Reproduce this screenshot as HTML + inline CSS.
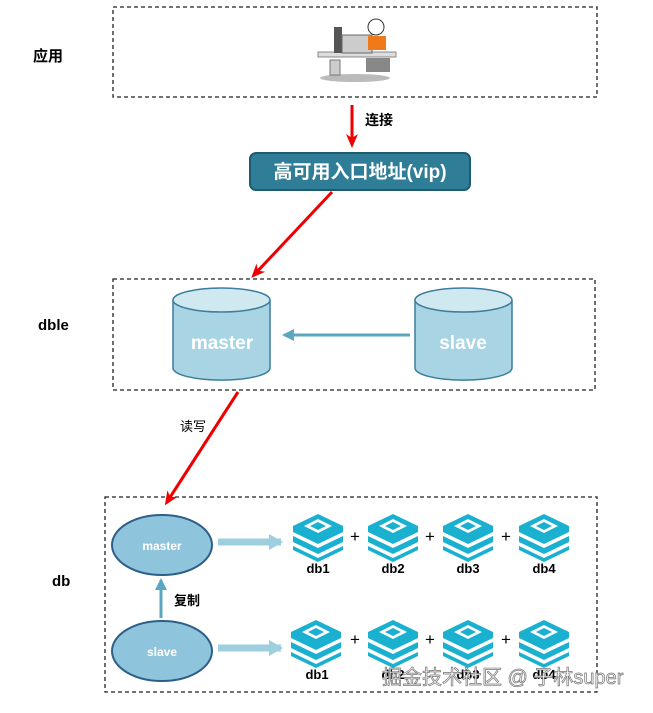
<!DOCTYPE html>
<html><head><meta charset="utf-8"><style>
body{margin:0;background:#fff;}
svg text{font-family:"Liberation Sans","Noto Sans CJK SC",sans-serif;}
</style></head><body>
<svg width="653" height="708" viewBox="0 0 653 708" xmlns="http://www.w3.org/2000/svg">
<defs>
<marker id="ra" markerWidth="14" markerHeight="12" refX="10" refY="6" orient="auto" markerUnits="userSpaceOnUse"><path d="M0,0 L14,6 L0,12 L4,6 z" fill="#e00"/></marker>
<marker id="ba" markerWidth="12" markerHeight="12" refX="10" refY="6" orient="auto" markerUnits="userSpaceOnUse"><path d="M0,0 L12,6 L0,12 z" fill="#5ba6c1"/></marker>
<marker id="la" markerWidth="14" markerHeight="16" refX="12" refY="8" orient="auto" markerUnits="userSpaceOnUse"><path d="M0,0 L14,8 L0,16 z" fill="#9dcfdf"/></marker>
<g id="dbi">
<path d="M-25,-6 L0,-18 L25,-6 L25,0 L0,12 L-25,0Z" fill="#1ab0cf"/>
<path d="M-25,4 L0,16 L25,4 L25,10 L0,22 L-25,10Z" fill="#1ab0cf"/>
<path d="M-25,14 L0,26 L25,14 L25,18 L0,30 L-25,18Z" fill="#1ab0cf"/>
<path d="M-14,-6 L0,-13 L14,-6 L0,1Z" fill="#fff"/>
<path d="M-8,-6 L0,-10 L8,-6 L0,-2Z" fill="#1ab0cf"/>
</g>
</defs>
<g fill="none" stroke="#222" stroke-width="1.3" stroke-dasharray="4,3">
<rect x="113" y="7" width="484" height="90"/>
<rect x="113" y="279" width="482" height="111"/>
<rect x="105" y="497" width="492" height="195"/>
</g>
<g font-weight="bold" font-size="15" fill="#000">
<text x="33" y="61">应用</text>
<text x="38" y="330">dble</text>
<text x="52" y="586">db</text>
</g>
<ellipse cx="355" cy="78" rx="35" ry="4" fill="#bbb"/>
<rect x="318" y="52" width="78" height="5" fill="#ddd" stroke="#888"/>
<rect x="334" y="27" width="8" height="26" fill="#555"/>
<rect x="342" y="35" width="30" height="18" fill="#ccc" stroke="#666"/>
<circle cx="376" cy="27" r="8" fill="#fff" stroke="#333"/>
<path d="M368,36 h18 v14 h-18z" fill="#f07a1a"/>
<rect x="330" y="60" width="10" height="15" fill="#ccc" stroke="#777"/>
<rect x="366" y="58" width="24" height="14" fill="#888"/>
<line x1="352" y1="105" x2="352" y2="144" stroke="#e00" stroke-width="3" marker-end="url(#ra)"/>
<text x="365" y="125" font-size="14" font-weight="bold">连接</text>
<rect x="250" y="153" width="220" height="37" rx="6" fill="#2f7d96" stroke="#1e5a70" stroke-width="2"/>
<text x="360" y="178" font-size="19" fill="#fff" text-anchor="middle" font-weight="bold">高可用入口地址(vip)</text>
<line x1="332" y1="192" x2="254" y2="275" stroke="#e00" stroke-width="3" marker-end="url(#ra)"/>
<g stroke="#3d7d9e" stroke-width="1.5">
<path d="M173,300 v68 a48,12 0 0 0 97,0 v-68" fill="#a9d4e3"/>
<ellipse cx="221.5" cy="300" rx="48.5" ry="12" fill="#d0e9f1"/>
<path d="M415,300 v68 a48,12 0 0 0 97,0 v-68" fill="#a9d4e3"/>
<ellipse cx="463.5" cy="300" rx="48.5" ry="12" fill="#d0e9f1"/>
</g>
<text x="222" y="349" font-size="19" font-weight="bold" fill="#fff" text-anchor="middle">master</text>
<text x="463" y="349" font-size="19" font-weight="bold" fill="#fff" text-anchor="middle">slave</text>
<line x1="410" y1="335" x2="284" y2="335" stroke="#5ba6c1" stroke-width="3" marker-end="url(#ba)"/>
<line x1="238" y1="392" x2="167" y2="502" stroke="#e00" stroke-width="3" marker-end="url(#ra)"/>
<text x="180" y="431" font-size="13">读写</text>
<ellipse cx="162" cy="545" rx="50" ry="30" fill="#8ec5dc" stroke="#2d5f88" stroke-width="2"/>
<ellipse cx="162" cy="651" rx="50" ry="30" fill="#8ec5dc" stroke="#2d5f88" stroke-width="2"/>
<text x="162" y="550" font-size="12" font-weight="bold" fill="#fff" text-anchor="middle">master</text>
<text x="162" y="656" font-size="12" font-weight="bold" fill="#fff" text-anchor="middle">slave</text>
<line x1="161" y1="618" x2="161" y2="580" stroke="#5ba6c1" stroke-width="3" marker-end="url(#ba)"/>
<text x="174" y="605" font-size="13" font-weight="bold">复制</text>
<line x1="218" y1="542" x2="281" y2="542" stroke="#9dcfdf" stroke-width="7" marker-end="url(#la)"/>
<line x1="218" y1="648" x2="281" y2="648" stroke="#9dcfdf" stroke-width="7" marker-end="url(#la)"/>
<use href="#dbi" x="318" y="532"/><use href="#dbi" x="393" y="532"/><use href="#dbi" x="468" y="532"/><use href="#dbi" x="544" y="532"/>
<use href="#dbi" x="316" y="638"/><use href="#dbi" x="393" y="638"/><use href="#dbi" x="468" y="638"/><use href="#dbi" x="544" y="638"/>
<g font-size="17" text-anchor="middle"><text x="355" y="542">+</text><text x="430" y="542">+</text><text x="506" y="542">+</text>
<text x="355" y="645">+</text><text x="430" y="645">+</text><text x="506" y="645">+</text></g>
<g font-size="13" font-weight="bold" text-anchor="middle"><text x="318" y="573">db1</text><text x="393" y="573">db2</text><text x="468" y="573">db3</text><text x="544" y="573">db4</text>
<text x="317" y="679">db1</text><text x="393" y="679">db2</text><text x="468" y="679">db3</text><text x="544" y="679">db4</text></g>
<text x="382" y="684" font-size="20" fill="#f4f4f4" stroke="#777" stroke-width="0.7">掘金技术社区 @ 子林super</text>
</svg>
</body></html>
